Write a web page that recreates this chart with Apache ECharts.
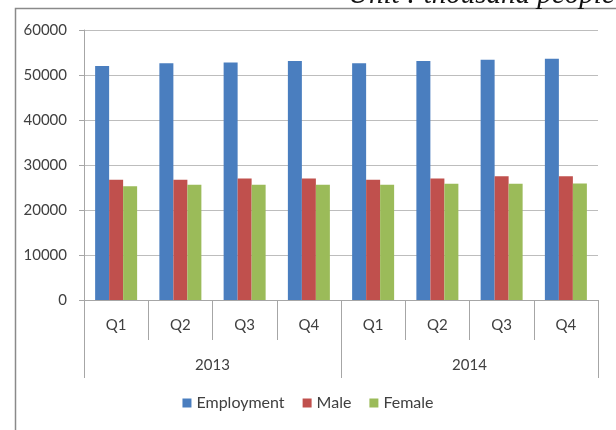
<!DOCTYPE html>
<html>
<head>
<meta charset="utf-8">
<script src="https://cdn.jsdelivr.net/npm/echarts@6/dist/echarts.min.js"></script>
<style>
  html, body { margin: 0; padding: 0; background: #fff; }
  #chart { width: 616px; height: 430px; }
</style>
</head>
<body>
<div id="chart"></div>
<script>
var quarters = ['Q1', 'Q2', 'Q3', 'Q4', 'Q1', 'Q2', 'Q3', 'Q4'];
var years = ['2013', '2014'];
var employment = [52000, 52600, 52800, 53100, 52600, 53100, 53400, 53600];
var male = [26700, 26700, 27000, 27000, 26700, 27000, 27500, 27500];
var female = [25300, 25600, 25600, 25600, 25600, 25850, 25850, 25900];

var font = 'Lato';
var axisGray = '#a6a6a6';

var myChart = echarts.init(document.getElementById('chart'));
var option = {
    animation: false,
    backgroundColor: '#fff',
    textStyle: { fontFamily: font },
    graphic: [
        {
            type: 'rect',
            shape: { x: 15.5, y: 8.5, width: 700, height: 500 },
            style: { fill: 'none', stroke: '#8a8a8a', lineWidth: 1.5 },
            silent: true
        },
        {
            type: 'text',
            left: 348,
            top: -19,
            style: {
                text: 'Unit : thousand people',
                font: 'italic 29px "Liberation Serif"',
                fill: '#111'
            },
            silent: true
        }
    ],
    legend: {
        bottom: 14,
        left: 'center',
        itemWidth: 9,
        itemHeight: 9,
        itemGap: 18,
        icon: 'rect',
        textStyle: { fontFamily: font, fontSize: 16, color: '#404040' },
        data: ['Employment', 'Male', 'Female']
    },
    grid: { left: 84, right: 18, top: 30, bottom: 130 },
    xAxis: [
        {
            type: 'category',
            position: 'bottom',
            data: quarters,
            axisLine: { show: true, lineStyle: { color: axisGray } },
            axisTick: { show: true, interval: 0, length: 40, lineStyle: { color: axisGray } },
            axisLabel: { margin: 18, fontSize: 15, color: '#404040', fontFamily: font }
        },
        {
            type: 'category',
            position: 'bottom',
            data: years,
            axisLine: { show: false },
            axisTick: { show: true, interval: 0, length: 78, lineStyle: { color: axisGray } },
            axisLabel: { margin: 58, fontSize: 15, color: '#404040', fontFamily: font }
        }
    ],
    yAxis: {
        type: 'value',
        min: 0,
        max: 60000,
        interval: 10000,
        axisLine: { show: true, lineStyle: { color: axisGray } },
        axisTick: { show: true, length: 5, lineStyle: { color: axisGray } },
        axisLabel: {
            margin: 17, fontSize: 15, color: '#404040', fontFamily: font,
            formatter: function (v) { return String(v); }
        },
        splitLine: { lineStyle: { color: '#bdbdbd' } }
    },
    series: [
        { name: 'Employment', type: 'bar', data: employment, barWidth: 14, barGap: '0%', itemStyle: { color: '#4a7ebf' } },
        { name: 'Male', type: 'bar', data: male, barWidth: 14, barGap: '0%', itemStyle: { color: '#c0504d' } },
        { name: 'Female', type: 'bar', data: female, barWidth: 14, barGap: '0%', itemStyle: { color: '#9bbb59' } }
    ]
};
myChart.setOption(option);
</script>
</body>
</html>
